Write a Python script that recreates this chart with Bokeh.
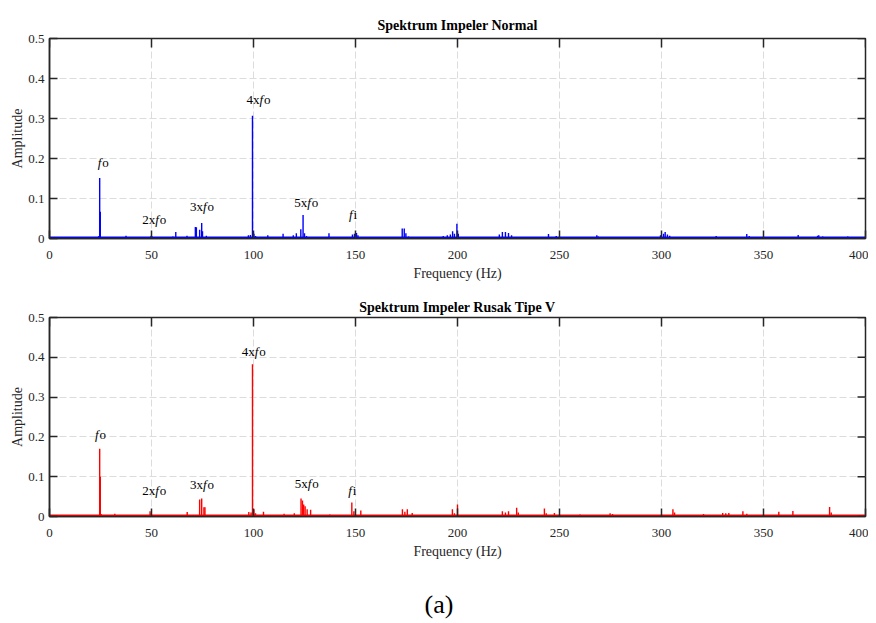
from math import pi
from bokeh.plotting import figure
from bokeh.models import FixedTicker, ColumnDataSource, Range1d, Div
from bokeh.layouts import column
from bokeh.embed import file_html
from bokeh.resources import INLINE
from bokeh.core.properties import value

# ---------------- data ----------------
x_ticks = [0, 50, 100, 150, 200, 250, 300, 350, 400]
y_ticks = [0, 0.1, 0.2, 0.3, 0.4, 0.5]
y_tick_labels = ["0", "0.1", "0.2", "0.3", "0.4", "0.5"]
x_max = 400
y_max = 0.5

titles = ["Spektrum Impeler Normal", "Spektrum Impeler Rusak Tipe V"]
caption = "(a)"

normal_freq = [24.6, 24.9, 24.2, 32.0, 37.5, 49.8, 50.3, 60.5, 61.9, 67.4, 71.5, 72.0, 73.6, 74.6, 75.0,
               76.9, 85.0, 92.0, 97.5, 98.5, 99.5, 100.2, 101.0, 107.0, 114.5, 119.5, 121.0, 123.2, 124.3,
               125.0, 126.0, 137.0, 148.5, 149.5, 150.5, 151.2, 168.0, 172.9, 173.9, 174.7, 176.0, 193.0,
               195.0, 196.5, 197.6, 198.5, 199.7, 200.4, 212.0, 220.5, 222.0, 223.5, 225.0, 226.5, 244.6,
               248.4, 268.3, 269.0, 290.0, 299.5, 301.0, 301.8, 302.9, 304.0, 315.0, 326.8, 341.8, 343.0,
               367.0, 376.5, 377.1, 379.0, 391.3]
normal_amp = [0.151, 0.067, 0.006, 0.004, 0.007, 0.007, 0.005, 0.005, 0.016, 0.007, 0.029, 0.028, 0.022, 0.039, 0.018,
              0.007, 0.003, 0.003, 0.008, 0.009, 0.307, 0.012, 0.006, 0.008, 0.012, 0.008, 0.013, 0.023, 0.059,
              0.013, 0.006, 0.013, 0.010, 0.012, 0.014, 0.008, 0.004, 0.025, 0.025, 0.013, 0.005, 0.006,
              0.008, 0.010, 0.018, 0.012, 0.037, 0.012, 0.004, 0.010, 0.016, 0.016, 0.014, 0.008, 0.011,
              0.006, 0.008, 0.005, 0.004, 0.008, 0.012, 0.016, 0.010, 0.007, 0.004, 0.006, 0.011, 0.006,
              0.009, 0.007, 0.008, 0.005, 0.005]

rusak_freq = [24.6, 24.9, 25.3, 32.0, 49.3, 49.8, 62.0, 67.5, 73.6, 74.6, 75.7, 76.2, 80.0, 97.7, 98.8,
              99.5, 100.2, 101.0, 104.9, 110.0, 115.0, 120.0, 123.3, 124.0, 124.6, 125.3, 126.3, 128.0,
              137.4, 148.2, 149.2, 152.6, 173.0, 174.2, 175.4, 177.8, 197.5, 198.5, 200.0, 212.0, 222.0,
              223.5, 225.0, 229.0, 229.8, 242.6, 243.5, 247.5, 260.0, 274.8, 276.0, 305.6, 306.4, 320.6,
              330.0, 331.5, 333.0, 339.9, 341.8, 350.0, 357.5, 364.4, 382.4, 383.2, 390.0]
rusak_amp = [0.170, 0.100, 0.006, 0.007, 0.013, 0.008, 0.004, 0.011, 0.043, 0.045, 0.023, 0.023, 0.004, 0.011, 0.010,
             0.3825, 0.018, 0.008, 0.012, 0.004, 0.007, 0.008, 0.045, 0.040, 0.030, 0.026, 0.018, 0.017,
             0.005, 0.035, 0.013, 0.015, 0.018, 0.012, 0.018, 0.009, 0.018, 0.008, 0.030, 0.004, 0.013,
             0.010, 0.013, 0.022, 0.010, 0.020, 0.008, 0.009, 0.005, 0.008, 0.006, 0.018, 0.010, 0.006,
             0.009, 0.008, 0.009, 0.013, 0.007, 0.004, 0.012, 0.014, 0.024, 0.010, 0.004]

floor_freq = [0, 400]
floor_amp = [0.0015, 0.0015]

label_pre = ["", "2x", "3x", "4x", "5x", ""]
label_it = ["f", "f", "f", "f", "f", "f"]
label_post = ["o", "o", "o", "o", "o", "i"]
normal_label_x = [26.4, 51.3, 74.7, 102.5, 125.9, 149.5]
normal_label_y = [0.189, 0.048, 0.0805, 0.347, 0.091, 0.060]
rusak_label_x = [25.0, 51.3, 74.7, 100.1, 126.1, 149.2]
rusak_label_y = [0.207, 0.0645, 0.0805, 0.4155, 0.083, 0.0645]

# ---------------- style ----------------
FONT = "Liberation Serif"
DARK = "#262626"


def make_fig(title, freq, amp, color, lx, ly, top_border, bottom_border, frame_h, title_standoff):
    p = figure(width=868, height=top_border + frame_h + bottom_border,
               x_range=Range1d(0, x_max), y_range=Range1d(0, y_max),
               output_backend="svg", toolbar_location=None,
               min_border_left=49, min_border_right=3,
               min_border_top=top_border, min_border_bottom=bottom_border)
    p.title.text = title
    p.title.text_font = FONT
    p.title.text_font_size = "14px"
    p.title.text_font_style = "bold"
    p.title.text_color = "black"
    p.title.align = "center"
    p.title.standoff = title_standoff
    p.outline_line_color = DARK
    p.outline_line_width = 1.5
    p.background_fill_color = "white"

    # grid
    for g in (p.xgrid, p.ygrid):
        g.grid_line_color = "#dcdcdc"
        g.grid_line_dash = "7 3"
        g.grid_line_width = 1
    p.xgrid.ticker = FixedTicker(ticks=x_ticks)
    p.ygrid.ticker = FixedTicker(ticks=y_ticks)

    # peaks
    src = ColumnDataSource(dict(f=freq, a=amp, z=[0] * len(freq)))
    p.segment(x0="f", y0="z", x1="f", y1="a", source=src, line_color=color, line_width=1.4)
    p.line(floor_freq, floor_amp, line_color=color, line_width=3)

    # main axes
    p.xaxis.ticker = FixedTicker(ticks=x_ticks)
    p.yaxis.ticker = FixedTicker(ticks=y_ticks)
    p.yaxis.major_label_overrides = {t: s for t, s in zip(y_ticks, y_tick_labels)}
    p.xaxis.axis_label = "Frequency (Hz)"
    p.yaxis.axis_label = "Amplitude"
    for ax in (p.xaxis[0], p.yaxis[0]):
        ax.axis_line_color = DARK
        ax.axis_line_width = 1.5
        ax.major_tick_line_color = DARK
        ax.major_tick_line_width = 1.5
        ax.major_tick_in = 8
        ax.major_tick_out = 0
        ax.minor_tick_line_color = None
        ax.major_label_text_font = FONT
        ax.major_label_text_font_size = "13px"
        ax.major_label_text_color = DARK
        ax.axis_label_text_font = FONT
        ax.axis_label_text_font_size = "14px"
        ax.axis_label_text_font_style = "normal"
        ax.axis_label_text_color = DARK
    p.xaxis.major_label_standoff = 12
    p.xaxis.axis_label_standoff = 4
    p.yaxis.major_label_standoff = 5
    p.yaxis.axis_label_standoff = 0

    # inner ticks on top and right edges (dash markers, half clipped by the frame)
    p.scatter(x=x_ticks, y=[y_max] * len(x_ticks), marker="dash", angle=pi / 2, size=18,
              line_color=DARK, line_width=1.5)
    p.scatter(x=[x_max] * len(y_ticks), y=y_ticks, marker="dash", size=16,
              line_color=DARK, line_width=1.5)

    # annotations: prefix upright, "f" italic, suffix upright
    cw = 6.5
    fw = 4.5
    xo_pre, xo_it, xo_post = [], [], []
    for pre in label_pre:
        w = cw * len(pre) + fw + cw
        x0 = -w / 2
        xo_pre.append(x0)
        xo_it.append(x0 + cw * len(pre))
        xo_post.append(x0 + cw * len(pre) + fw)
    lsrc = ColumnDataSource(dict(x=lx, y=ly, pre=label_pre, it=label_it, post=label_post,
                                 xp=xo_pre, xi=xo_it, xq=xo_post))
    common = dict(x="x", y="y", source=lsrc, text_font=value(FONT), text_font_size="13px",
                  text_color="black", text_align="left", text_baseline="middle")
    p.text(text="pre", x_offset="xp", **common)
    p.text(text="it", x_offset="xi", text_font_style="italic", **common)
    p.text(text="post", x_offset="xq", **common)
    return p


p1 = make_fig(titles[0], normal_freq, normal_amp, "#0000ff", normal_label_x, normal_label_y, 38, 52, 200, 12)
p2 = make_fig(titles[1], rusak_freq, rusak_amp, "#ff0000", rusak_label_x, rusak_label_y, 27, 52, 199, 5)

cap = Div(text=('<div style="width:868px;text-align:center;font-family:\'Liberation Serif\';'
                'font-size:26px;line-height:30px;padding-top:17px;color:black;">' + caption + '</div>'),
          width=868, height=54)

layout = column(p1, p2, cap, spacing=0)
open("out.html", "w").write(file_html(layout, INLINE))
